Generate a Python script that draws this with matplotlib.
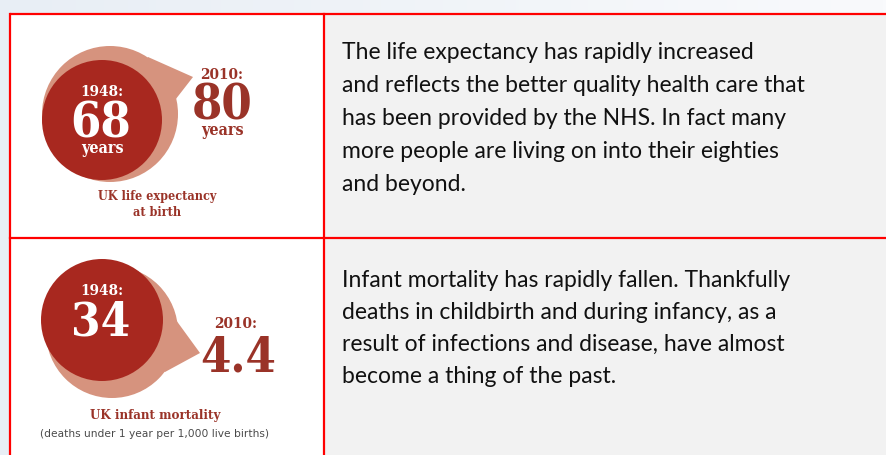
import numpy as np
import matplotlib
matplotlib.use("Agg")
import matplotlib.pyplot as plt
from matplotlib.patches import Circle, Polygon, Rectangle
from matplotlib.colors import LinearSegmentedColormap

# ---- data ----
years = ["1948", "2010"]
life_expectancy = [68, 80]
infant_mortality = [34, 4.4]
life_label = ["UK life expectancy", "at birth"]
infant_label = ["UK infant mortality", "(deaths under 1 year per 1,000 live births)"]
text_top = ["The life expectancy has rapidly increased",
            "and reflects the better quality health care that",
            "has been provided by the NHS. In fact many",
            "more people are living on into their eighties",
            "and beyond."]
text_bottom = ["Infant mortality has rapidly fallen. Thankfully",
               "deaths in childbirth and during infancy, as a",
               "result of infections and disease, have almost",
               "become a thing of the past."]

W, H = 886, 455
fig = plt.figure(figsize=(W / 100, H / 100), dpi=100)
ax = fig.add_axes([0, 0, 1, 1])
ax.set_xlim(0, W)
ax.set_ylim(H, 0)
ax.axis("off")

# background gradient
cmap = LinearSegmentedColormap.from_list("bg", ["#e8eef5", "#f9fafc"])
grad = np.linspace(0, 1, 256)[None, :]
ax.imshow(grad, extent=[0, W, H, 0], cmap=cmap, aspect="auto", zorder=0)

# cells
ax.add_patch(Rectangle((10, 14), 314, 224, facecolor="white", edgecolor="none", zorder=1))
ax.add_patch(Rectangle((10, 238), 314, 230, facecolor="white", edgecolor="none", zorder=1))
ax.add_patch(Rectangle((324, 14), 570, 460, facecolor="#f2f2f2", edgecolor="none", zorder=1))
red = "#ff0000"
lw = 1.6
ax.plot([10, 900], [14, 14], color=red, lw=lw, zorder=5, solid_capstyle="butt")
ax.plot([10, 900], [238, 238], color=red, lw=lw, zorder=5)
ax.plot([10, 10], [14, 470], color=red, lw=lw, zorder=5)
ax.plot([324, 324], [14, 470], color=red, lw=lw, zorder=5)

dark = "#a8281f"
light = "#d6937e"
txt_red = "#9a3328"
serif = "DejaVu Serif"
cond = dict(family=serif, fontweight="bold", fontstretch="condensed",
            ha="center", va="baseline", zorder=4)

# ---- top infographic ----
ax.add_patch(Circle((110, 114), 68, facecolor=light, edgecolor="none", zorder=2))
ax.add_patch(Polygon([(110, 114), (148, 57), (193, 77), (172, 104)], closed=True,
                     facecolor=light, edgecolor="none", zorder=2))
ax.add_patch(Circle((102, 120), 60, facecolor=dark, edgecolor="none", zorder=3))

ax.text(102, 96, f"{years[0]}:", color="white", fontsize=11, **cond)
ax.text(101, 137, f"{life_expectancy[0]}", color="white", fontsize=35, **cond)
ax.text(102, 153, "years", color="white", fontsize=11.5, **cond)
ax.text(222, 79, f"{years[1]}:", color=txt_red, fontsize=11, **cond)
ax.text(222, 120, f"{life_expectancy[1]}", color=txt_red, fontsize=35, **cond)
ax.text(222, 135, "years", color=txt_red, fontsize=11.5, **cond)
ax.text(157, 200, life_label[0], color=txt_red, fontsize=9, **cond)
ax.text(157, 216, life_label[1], color=txt_red, fontsize=9, **cond)

# ---- bottom infographic ----
ax.add_patch(Circle((112, 332), 66, facecolor=light, edgecolor="none", zorder=2))
ax.add_patch(Polygon([(112, 332), (176, 320), (200, 353), (165, 372)], closed=True,
                     facecolor=light, edgecolor="none", zorder=2))
ax.add_patch(Circle((102, 320), 61, facecolor=dark, edgecolor="none", zorder=3))

ax.text(102, 295, f"{years[0]}:", color="white", fontsize=11, **cond)
ax.text(101, 336, f"{infant_mortality[0]}", color="white", fontsize=34, **cond)
ax.text(236, 328, f"{years[1]}:", color=txt_red, fontsize=11, **cond)
ax.text(238, 371, f"{infant_mortality[1]}", color=txt_red, fontsize=35, **cond)
ax.text(155, 419, infant_label[0], color=txt_red, fontsize=9.5, **cond)
ax.text(155, 434, infant_label[1], color="#4a4a4a", fontsize=7.7,
        family="DejaVu Sans", ha="center", va="center", zorder=4)

# ---- right text ----
sans = "Lato"
for i, line in enumerate(text_top):
    ax.text(342, 59 + 33 * i, line, color="#111111", fontsize=16.5, family=sans,
            ha="left", va="baseline", zorder=4)
for i, line in enumerate(text_bottom):
    ax.text(342, 287 + 32 * i, line, color="#111111", fontsize=16.5, family=sans,
            ha="left", va="baseline", zorder=4)

fig.savefig("out.png", dpi=100)
